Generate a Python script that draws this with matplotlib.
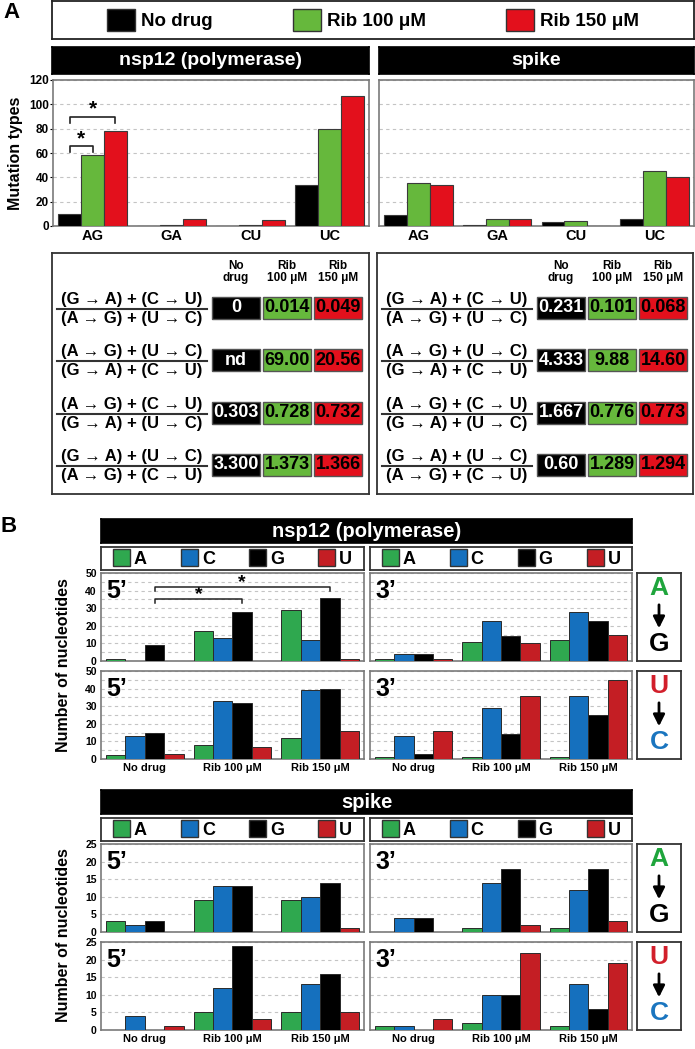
import matplotlib
matplotlib.use("Agg")
import matplotlib.pyplot as plt
from matplotlib.patches import Patch, Rectangle
import numpy as np

plt.rcParams["font.family"] = ["Liberation Sans", "DejaVu Sans"]
plt.rcParams["font.weight"] = "bold"
plt.rcParams["axes.labelweight"] = "bold"

# ---- data -------------------------------------------------------------
conditions = ["No drug", "Rib 100 μM", "Rib 150 μM"]
cond_colors = ["#000000", "#66b83c", "#e3101c"]
mut_types = ["AG", "GA", "CU", "UC"]

# mutation types per condition (rows) and type (cols)
nsp12_types = [[10, 0, 0, 34], [58, 1, 1, 80], [78, 6, 5, 107]]
spike_types = [[9, 1, 3, 6], [35, 6, 4, 45], [34, 6, 0, 40]]

ratio_terms = [
    ("(G → A) + (C → U)", "(A → G) + (U → C)"),
    ("(A → G) + (U → C)", "(G → A) + (C → U)"),
    ("(A → G) + (C → U)", "(G → A) + (U → C)"),
    ("(G → A) + (U → C)", "(A → G) + (C → U)"),
]
col_heads = ["No\ndrug", "Rib\n100 μM", "Rib\n150 μM"]
nsp12_ratios = [["0", "0.014", "0.049"], ["nd", "69.00", "20.56"],
                ["0.303", "0.728", "0.732"], ["3.300", "1.373", "1.366"]]
spike_ratios = [["0.231", "0.101", "0.068"], ["4.333", "9.88", "14.60"],
                ["1.667", "0.776", "0.773"], ["0.60", "1.289", "1.294"]]

bases = ["A", "C", "G", "U"]
base_colors = ["#2fa84f", "#1570be", "#000000", "#c41e24"]

# neighbouring nucleotide counts: [condition][base]
nsp12_ag_5 = [[1, 0, 9, 0], [17, 13, 28, 0], [29, 12, 36, 1]]
nsp12_ag_3 = [[1, 4, 4, 1], [11, 23, 14, 10], [12, 28, 23, 15]]
nsp12_uc_5 = [[2, 13, 15, 3], [8, 33, 32, 7], [12, 39, 40, 16]]
nsp12_uc_3 = [[1, 13, 3, 16], [1, 29, 14, 36], [1, 36, 25, 45]]
spike_ag_5 = [[3, 2, 3, 0], [9, 13, 13, 0], [9, 10, 14, 1]]
spike_ag_3 = [[0, 4, 4, 0], [1, 14, 18, 2], [1, 12, 18, 3]]
spike_uc_5 = [[0, 4, 0, 1], [5, 12, 24, 3], [5, 13, 16, 5]]
spike_uc_3 = [[1, 1, 0, 3], [2, 10, 10, 22], [1, 13, 6, 19]]

# ---- layout helpers ---------------------------------------------------
W, H = 695, 1049
fig = plt.figure(figsize=(W / 100, H / 100), dpi=100)


def px_axes(x0, y0, x1, y1):
    """Add an axes given its pixel box (top-left origin)."""
    return fig.add_axes([x0 / W, 1 - y1 / H, (x1 - x0) / W, (y1 - y0) / H])


def blank(ax, edge="black", lw=1.2):
    ax.set_xticks([])
    ax.set_yticks([])
    for s in ax.spines.values():
        s.set_edgecolor(edge)
        s.set_linewidth(lw)


def title_bar(box, text, size):
    ax = px_axes(*box)
    ax.set_facecolor("black")
    blank(ax)
    ax.text(0.5, 0.5, text, color="white", ha="center", va="center",
            fontsize=size, transform=ax.transAxes)


def frame_axes(ax):
    for s in ax.spines.values():
        s.set_edgecolor("#7a7a7a")
        s.set_linewidth(1.2)


# ---- panel A ----------------------------------------------------------
fig.text(3 / W, 1 - 12 / H, "A", fontsize=16, va="center")
fig.text(1 / W, 1 - 527 / H, "B", fontsize=16, va="center")

ax_leg = px_axes(52, 1, 694, 39)
blank(ax_leg, edge="#222222", lw=1.3)
handles = [Patch(facecolor=c, edgecolor="#333333") for c in cond_colors]
ax_leg.legend(handles, conditions, loc="center", ncol=3, frameon=False,
              fontsize=13.5, handlelength=1.5, handleheight=1.4,
              handletextpad=0.3, columnspacing=4.3)

title_bar((52, 47, 369, 74), "nsp12 (polymerase)", 14)
title_bar((379, 47, 694, 74), "spike", 14)

bw = 0.29


def mutation_bars(ax, counts, show_labels):
    x = np.arange(len(mut_types))
    for i, col in enumerate(cond_colors):
        ax.bar(x + (i - 1) * bw, counts[i], bw, color=col,
               edgecolor="#3a3a3a", lw=0.8, zorder=3)
    ax.set_xlim(-0.5, 3.5)
    ax.set_ylim(0, 120)
    ax.set_yticks(range(0, 121, 20))
    ax.grid(axis="y", ls=(0, (3, 3)), color="#c4c4c4", lw=0.8, zorder=0)
    ax.set_xticks(x, mut_types, fontsize=10.5)
    ax.tick_params(axis="x", length=0, pad=2)
    ax.tick_params(axis="y", length=2, labelsize=8.5, pad=1,
                   labelleft=show_labels)
    frame_axes(ax)


ax_a1 = px_axes(53, 80, 369, 226)
mutation_bars(ax_a1, nsp12_types, True)
ax_a1.set_ylabel("Mutation types", fontsize=11.5, labelpad=4)

# significance brackets on AG
for x_end, y_line, y_star in [(0, 66, 72), (bw, 90, 96)]:
    ax_a1.plot([-bw, -bw, x_end, x_end], [y_line - 5, y_line, y_line, y_line - 5],
               color="#222222", lw=1.2, zorder=4)
    ax_a1.text((x_end - bw) / 2, y_star, "*", ha="center", va="center", fontsize=15)

ax_a2 = px_axes(379, 80, 694, 226)
mutation_bars(ax_a2, spike_types, False)
ax_a2.tick_params(axis="y", length=0)

# ---- ratio tables -----------------------------------------------------
table_fill = ["#000000", "#66b83c", "#e3101c"]
table_text = ["white", "black", "black"]


def ratio_table(box, values):
    ax = px_axes(*box)
    blank(ax, edge="#333333", lw=1.3)
    w, h = box[2] - box[0], box[3] - box[1]
    ax.set_xlim(0, w)
    ax.set_ylim(h, 0)
    col_x = 160 + np.arange(3) * 51
    for j, head in enumerate(col_heads):
        ax.text(col_x[j] + 24, 19, head, ha="center", va="center",
                fontsize=8.5, linespacing=0.95)
    for r, (num, den) in enumerate(ratio_terms):
        yc = 55 + r * 52.3
        ax.plot([5, 155], [yc + 1, yc + 1], color="#333333", lw=1.5)
        ax.text(80, yc - 1, num, ha="center", va="bottom", fontsize=12)
        ax.text(80, yc + 3, den, ha="center", va="top", fontsize=12)
        for j in range(3):
            ax.add_patch(Rectangle((col_x[j], yc - 11), 48, 22,
                                   facecolor=table_fill[j], edgecolor="#555555", lw=1))
            ax.text(col_x[j] + 24, yc, values[r][j], ha="center", va="center",
                    color=table_text[j], fontsize=13)


ratio_table((52, 253, 369, 494), nsp12_ratios)
ratio_table((377, 253, 693, 494), spike_ratios)

# ---- panel B ----------------------------------------------------------
bwB = 0.222


def base_bars(ax, counts, ymax, major, minor, end_label, show_y, show_x):
    x = np.arange(len(conditions))
    for k, col in enumerate(base_colors):
        ax.bar(x + (k - 1.5) * bwB, [c[k] for c in counts], bwB, color=col,
               edgecolor="#2a2a2a", lw=0.7, zorder=3)
    ax.set_xlim(-0.5, 2.5)
    ax.set_ylim(0, ymax)
    ax.set_yticks(np.arange(0, ymax + 1, major))
    ax.set_yticks(np.arange(0, ymax + 1, minor), minor=True)
    ax.grid(axis="y", which="both", ls=(0, (3, 3)), color="#c4c4c4", lw=0.8, zorder=0)
    ax.tick_params(axis="y", which="both", length=0, labelsize=7.5, pad=3,
                   labelleft=show_y)
    ax.set_xticks(x, conditions if show_x else [], fontsize=8)
    ax.tick_params(axis="x", length=0, pad=3)
    ax.text(0.022, 0.93, end_label, transform=ax.transAxes, fontsize=18,
            va="top", ha="left")
    frame_axes(ax)


def legend_box(box):
    ax = px_axes(*box)
    blank(ax, edge="#333333", lw=1.3)
    hs = [Patch(facecolor=c, edgecolor="#333333") for c in base_colors]
    ax.legend(hs, bases, loc="center", ncol=4, frameon=False, fontsize=13,
              handlelength=0.95, handleheight=1.0, handletextpad=0.2,
              columnspacing=1.9)


def change_box(box, top, top_col, bottom, bottom_col):
    ax = px_axes(*box)
    blank(ax, edge="#333333", lw=1.3)
    ax.text(0.5, 0.83, top, color=top_col, ha="center", va="center",
            fontsize=19, transform=ax.transAxes)
    ax.text(0.5, 0.19, bottom, color=bottom_col, ha="center", va="center",
            fontsize=19, transform=ax.transAxes)
    ax.annotate("", xy=(0.5, 0.34), xytext=(0.5, 0.67), xycoords="axes fraction",
                arrowprops=dict(arrowstyle="-|>", color="black", lw=2,
                                mutation_scale=17))


def gene_block(y_top, title, sets, ymax, major, minor, y_label_c):
    title_bar((101, y_top, 632, y_top + 24), title, 14.5)
    legend_box((101, y_top + 28, 364, y_top + 51))
    legend_box((370, y_top + 28, 632, y_top + 51))
    axes = []
    rows = [(y_top + 54, y_top + 142), (y_top + 152, y_top + 240)]
    for r, (ya, yb) in enumerate(rows):
        a5 = px_axes(101, ya, 364, yb)
        a3 = px_axes(370, ya, 632, yb)
        base_bars(a5, sets[r][0], ymax, major, minor, "5’", True, r == 1)
        base_bars(a3, sets[r][1], ymax, major, minor, "3’", False, r == 1)
        axes.append(a5)
    change_box((637, rows[0][0], 681, rows[0][1]), "A", "#1fa53c", "G", "black")
    change_box((637, rows[1][0], 681, rows[1][1]), "U", "#d21f2b", "C", "#1a75bf")
    fig.text(64 / W, 1 - y_label_c / H, "Number of nucleotides", rotation=90,
             fontsize=11.5, ha="center", va="center")
    return axes


nsp_axes = gene_block(519, "nsp12 (polymerase)",
                      [(nsp12_ag_5, nsp12_ag_3), (nsp12_uc_5, nsp12_uc_3)],
                      50, 10, 5, 665)
spike_axes = gene_block(790, "spike",
                        [(spike_ag_5, spike_ag_3), (spike_uc_5, spike_uc_3)],
                        25, 5, 5, 935)

# significance brackets, G of No drug vs Rib 100 / Rib 150
ax_b = nsp_axes[0]
g_off = 0.5 * bwB
for grp, y_line in [(1, 35), (2, 42)]:
    ax_b.plot([g_off, g_off, grp + g_off, grp + g_off],
              [y_line - 2.3, y_line, y_line, y_line - 2.3],
              color="#222222", lw=1.1, zorder=4)
    ax_b.text((grp / 2) + g_off, y_line + 2.5, "*", ha="center", va="center",
              fontsize=14)

fig.savefig("out.png", dpi=100)
